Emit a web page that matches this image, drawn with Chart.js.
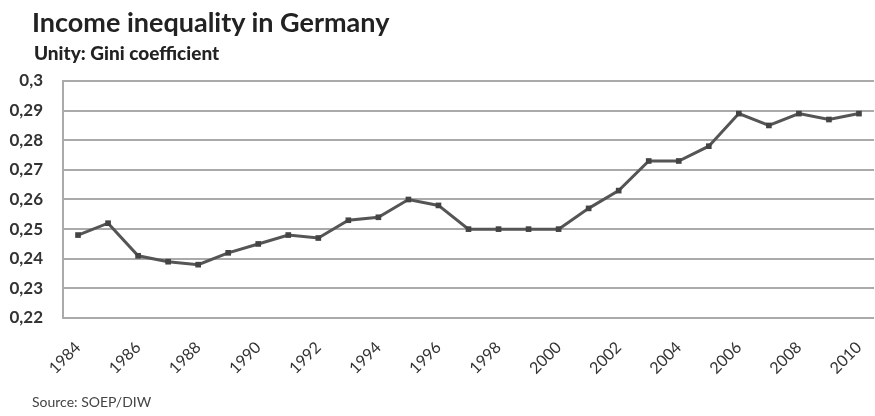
<!DOCTYPE html>
<html>
<head>
<meta charset="utf-8">
<script src="https://cdn.jsdelivr.net/npm/chart.js@4"></script>
<style>
  html, body { margin: 0; padding: 0; background: #fff; }
  #wrap { position: relative; width: 875px; height: 416px; font-family: Lato, sans-serif; }
  #title { position: absolute; left: 32px; top: 5px; font-size: 27px; font-weight: bold; color: #222; }
  #subtitle { position: absolute; left: 34px; top: 41px; font-size: 19px; font-weight: 900; color: #222; }
  #source { position: absolute; left: 32px; top: 393px; font-size: 14px; color: #444; }
  canvas { position: absolute; left: 0; top: 0; }
</style>
</head>
<body>
<div id="wrap">
  <canvas id="giniChart" width="875" height="416"></canvas>
  <div id="title">Income inequality in Germany</div>
  <div id="subtitle">Unity: Gini coefficient</div>
  <div id="source">Source: SOEP/DIW</div>
</div>
<script>
const years = ['1984', '1985', '1986', '1987', '1988', '1989', '1990', '1991', '1992',
  '1993', '1994', '1995', '1996', '1997', '1998', '1999', '2000', '2001', '2002',
  '2003', '2004', '2005', '2006', '2007', '2008', '2009', '2010'];
const gini = [0.248, 0.252, 0.241, 0.239, 0.238, 0.242, 0.245, 0.248, 0.247,
  0.253, 0.254, 0.260, 0.258, 0.250, 0.250, 0.250, 0.250, 0.257, 0.263,
  0.273, 0.273, 0.278, 0.289, 0.285, 0.289, 0.287, 0.289];
const yMin = 0.22;
const yMax = 0.3;
const yStep = 0.01;

window.addEventListener('DOMContentLoaded', () => {
  const ctx = document.getElementById('giniChart').getContext('2d');
  new Chart(ctx, {
    type: 'line',
    data: {
      labels: years,
      datasets: [{
        data: gini,
        borderColor: '#555',
        borderWidth: 3,
        pointStyle: 'rect',
        pointRadius: 4,
        pointBackgroundColor: '#444',
        pointBorderColor: '#444',
        pointBorderWidth: 0,
        tension: 0
      }]
    },
    options: {
      responsive: false,
      animation: false,
      layout: { autoPadding: false, padding: { top: 81, right: 1, bottom: 0, left: 0 } },
      plugins: {
        legend: { display: false },
        tooltip: { enabled: false }
      },
      scales: {
        x: {
          offset: true,
          grid: { display: false },
          border: { display: false },
          afterFit: (scale) => {
            scale.height = 98;
            scale.paddingLeft = 0;
            scale.paddingRight = 0;
          },
          ticks: {
            autoSkip: false,
            minRotation: 45,
            maxRotation: 45,
            padding: 12,
            color: '#333',
            font: { family: 'Lato', size: 16 },
            callback: function (value, index) {
              return index % 2 === 0 ? years[index] : '';
            }
          }
        },
        y: {
          min: yMin,
          max: yMax,
          afterFit: (scale) => { scale.width = 63; },
          border: { display: true, color: '#aaa', width: 2 },
          grid: { color: '#aaa', lineWidth: 2, drawTicks: false },
          ticks: {
            stepSize: yStep,
            padding: 20,
            color: '#333',
            font: { family: 'Lato', size: 17, weight: 'bold' },
            callback: (value) => Number(value.toFixed(2)).toString().replace('.', ',')
          }
        }
      }
    }
  });
});
</script>
</body>
</html>
